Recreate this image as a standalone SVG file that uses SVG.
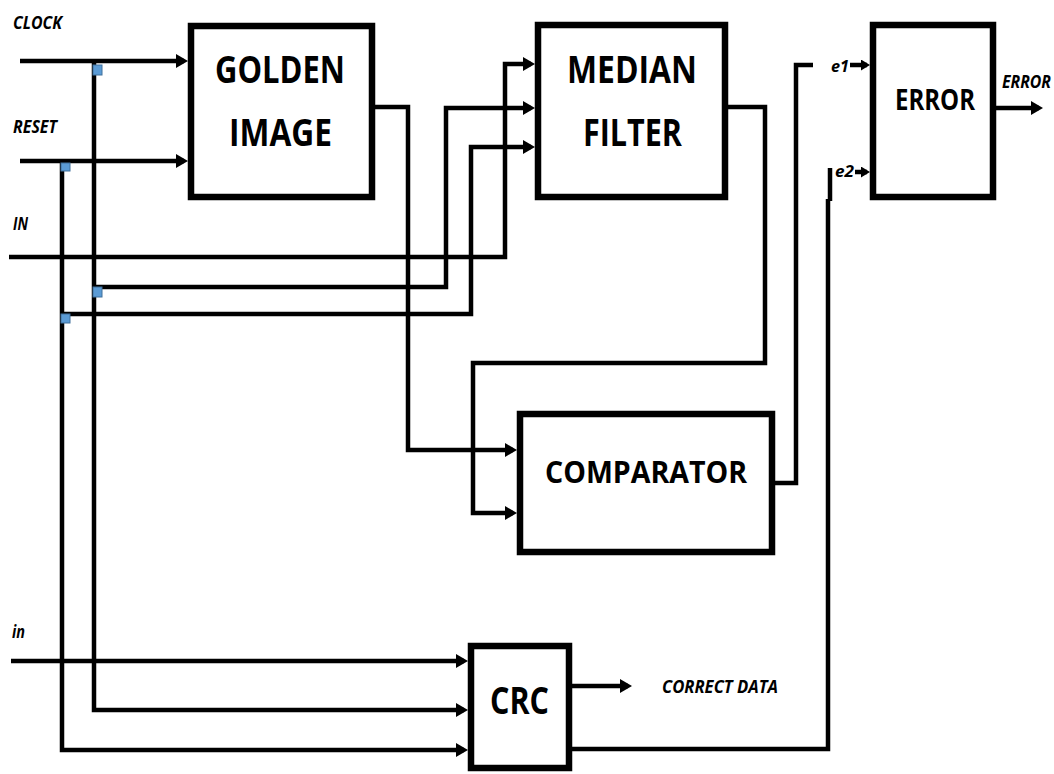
<svg xmlns="http://www.w3.org/2000/svg" width="1054" height="774" viewBox="0 0 1054 774">
<style>
.box{fill:#fff;stroke:#000;stroke-width:6.5}
.bl{font-family:"Open Sans","Noto Sans","Liberation Sans",sans-serif;font-weight:bold;fill:#000}
.lb{font-family:"Open Sans","Noto Sans","Liberation Sans",sans-serif;font-weight:bold;font-style:italic;fill:#000}
.w{fill:none;stroke:#000;stroke-width:4.5;stroke-linejoin:miter}
.a{marker-end:url(#ah)}
.s{marker-end:url(#sh)}
.tap{fill:#5B9BD5;stroke:#41719C;stroke-width:1}
</style>
<defs>
<marker id="ah" markerUnits="userSpaceOnUse" markerWidth="13" markerHeight="14" refX="8" refY="7" orient="auto">
<path d="M0,0 L12,7 L0,14 z" fill="#000"/>
</marker>
<marker id="sh" markerUnits="userSpaceOnUse" markerWidth="10" markerHeight="11" refX="6" refY="5.5" orient="auto">
<path d="M0,0 L9,5.5 L0,11 z" fill="#000"/>
</marker>
</defs>

<g id="connectors">
<path class="w a" d="M20,61 H184"/>
<path class="w a" d="M20,161 H184"/>
<path class="w a" d="M9,257 H505 V64 H531"/>
<path class="w a" d="M94,61 V710 H464"/>
<path class="w a" d="M94,287 H446 V108 H531"/>
<path class="w a" d="M62,161 V750 H464"/>
<path class="w a" d="M62,314 H471 V147 H531"/>
<path class="w a" d="M375,107 H408 V450 H513"/>
<path class="w a" d="M728,107 H765 V363 H473 V513 H513"/>
<path class="w" d="M775,483 H796 V65 H813"/>
<path class="w s" d="M850,65 H867"/>
<path class="w s" d="M855,172 H867"/>
<path class="w" d="M572,749 H828 V199"/>
<path class="w" d="M830,201 V168"/>
<path class="w a" d="M11,661 H464"/>
<path class="w a" d="M572,686 H628"/>
<path class="w a" d="M996,108 H1039"/>
<rect class="tap" x="93" y="65" width="9" height="10"/>
<rect class="tap" x="61" y="163" width="9" height="8"/>
<rect class="tap" x="93" y="287" width="9" height="10"/>
<rect class="tap" x="61" y="314" width="9" height="9"/>
</g>

<g id="golden-image">
<rect class="box" x="191" y="26" width="181" height="171"/>
<text class="bl" x="215" y="83" font-size="38" textLength="130" lengthAdjust="spacingAndGlyphs">GOLDEN</text>
<text class="bl" x="229" y="146" font-size="38" textLength="103" lengthAdjust="spacingAndGlyphs">IMAGE</text>
</g>

<g id="median-filter">
<rect class="box" x="538" y="25" width="187" height="172"/>
<text class="bl" x="567" y="83" font-size="38" textLength="130" lengthAdjust="spacingAndGlyphs">MEDIAN</text>
<text class="bl" x="583" y="146" font-size="38" textLength="99" lengthAdjust="spacingAndGlyphs">FILTER</text>
</g>

<g id="error">
<rect class="box" x="873" y="25" width="120" height="172"/>
<text class="bl" x="895" y="110" font-size="28" textLength="80" lengthAdjust="spacingAndGlyphs">ERROR</text>
</g>

<g id="comparator">
<rect class="box" x="520" y="414" width="252" height="138"/>
<text class="bl" x="545" y="483" font-size="31" textLength="202" lengthAdjust="spacingAndGlyphs">COMPARATOR</text>
</g>

<g id="crc">
<rect class="box" x="471" y="646" width="98" height="122"/>
<text class="bl" x="490" y="714" font-size="37" textLength="59" lengthAdjust="spacingAndGlyphs">CRC</text>
</g>

<g id="labels">
<text class="lb" x="13" y="29" font-size="17" textLength="49" lengthAdjust="spacingAndGlyphs">CLOCK</text>
<text class="lb" x="13" y="133" font-size="17" textLength="44" lengthAdjust="spacingAndGlyphs">RESET</text>
<text class="lb" x="13" y="230" font-size="17" textLength="15" lengthAdjust="spacingAndGlyphs">IN</text>
<text class="lb" x="12" y="638" font-size="17" textLength="13" lengthAdjust="spacingAndGlyphs">in</text>
<text class="lb" x="831" y="72" font-size="16" textLength="18" lengthAdjust="spacingAndGlyphs">e1</text>
<text class="lb" x="835" y="177" font-size="16" textLength="19" lengthAdjust="spacingAndGlyphs">e2</text>
<text class="lb" x="1002" y="88" font-size="17" textLength="49" lengthAdjust="spacingAndGlyphs">ERROR</text>
<text class="lb" x="662" y="693" font-size="18" textLength="116" lengthAdjust="spacingAndGlyphs">CORRECT DATA</text>
</g>
</svg>
